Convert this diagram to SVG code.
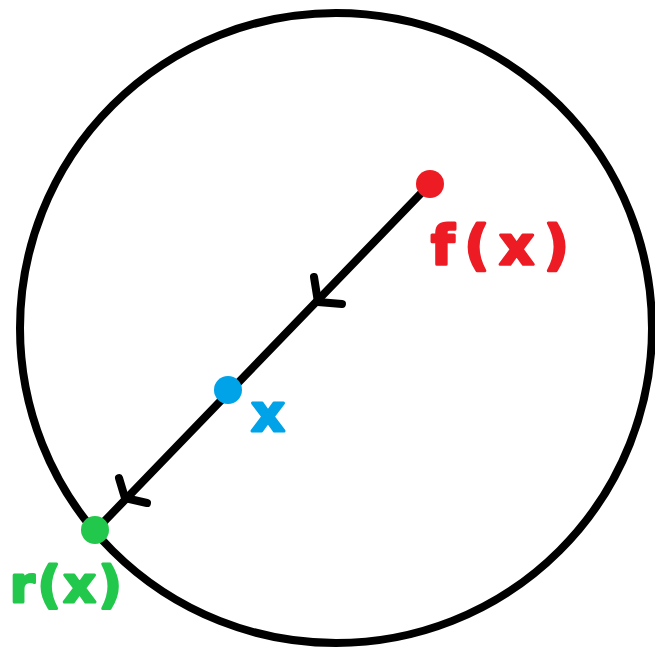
<svg xmlns="http://www.w3.org/2000/svg" width="655" height="650" viewBox="0 0 655 650">
<style>
.ink{fill:none;stroke:#000;stroke-width:8;stroke-linecap:round;stroke-linejoin:round}
.lbl{font-family:"DejaVu Sans","Liberation Sans",sans-serif;font-weight:bold;stroke-width:3;stroke-linejoin:round}
.red{fill:#ed1c24;stroke:#ed1c24}
.blue{fill:#00a2e8;stroke:#00a2e8}
.green{fill:#22c84b;stroke:#22c84b}
</style>
<rect width="655" height="650" fill="#fff"/>
<g id="circle">
<ellipse class="ink" cx="336" cy="328" rx="316" ry="315"/>
</g>
<g id="connectors">
<line class="ink" x1="430" y1="184" x2="95" y2="531"/>
<polyline class="ink" points="314,277 318,302 342,304"/>
<polyline class="ink" points="119,478 125,498 147,503"/>
</g>
<g id="node-fx">
<circle class="red" cx="430" cy="184" r="14" stroke-width="0"/>
<text class="lbl red" x="431" y="264" font-size="54" letter-spacing="10">f(x)</text>
</g>
<g id="node-x">
<circle class="blue" cx="228" cy="390" r="14" stroke-width="0"/>
<text class="lbl blue" x="268" y="431" font-size="52" text-anchor="middle">x</text>
</g>
<g id="node-rx">
<circle class="green" cx="95" cy="530" r="14" stroke-width="0"/>
<text class="lbl green" x="10" y="602" font-size="50" letter-spacing="3">r(x)</text>
</g>
</svg>
